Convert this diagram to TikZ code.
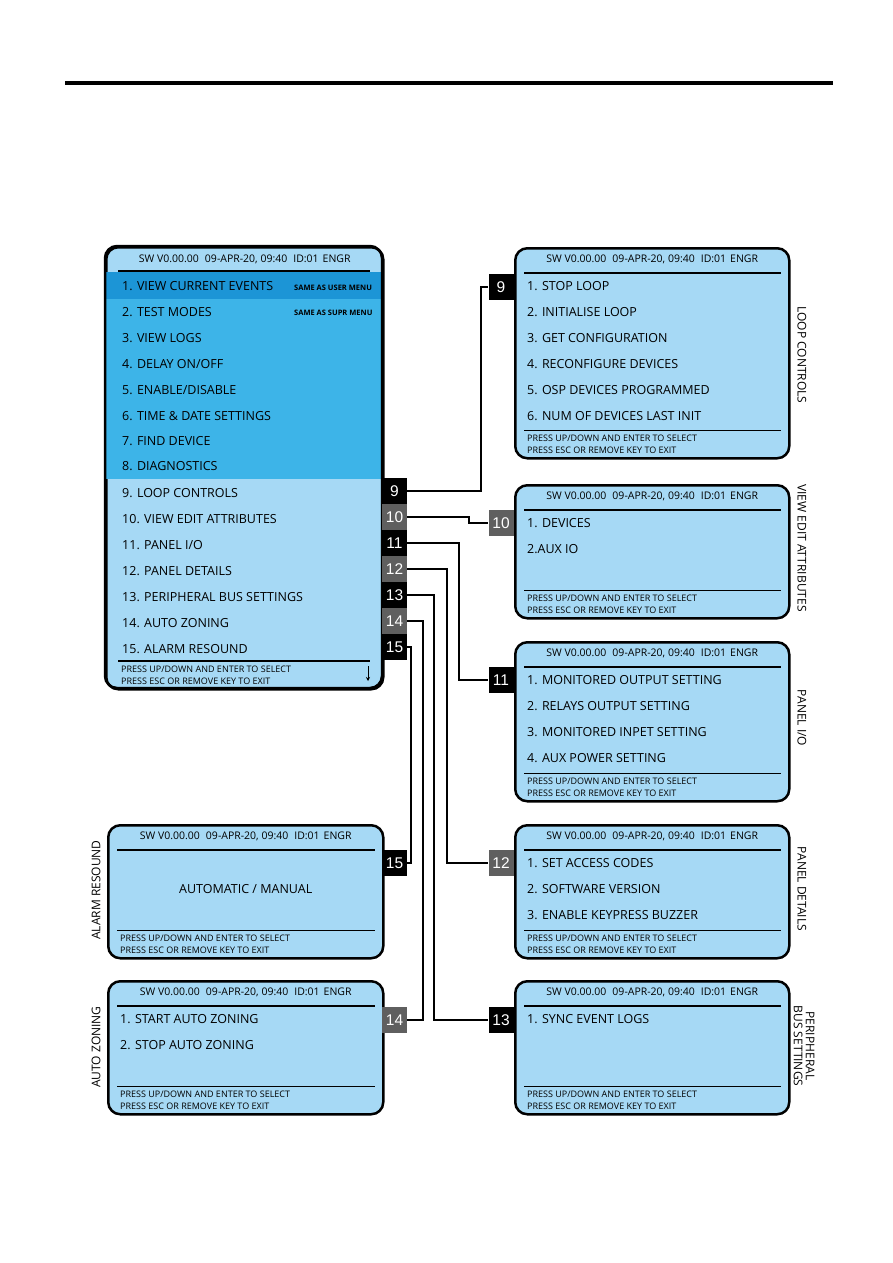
\documentclass[tikz,border=0pt]{standalone}
\usepackage{fontspec}
\setmainfont{Open Sans}
\newfontfamily\tabfont{Liberation Sans}
\usetikzlibrary{calc,arrows.meta}
\definecolor{lcdlight}{RGB}{166,217,245}
\definecolor{lcdmid}{RGB}{61,180,232}
\definecolor{lcddark}{RGB}{28,149,214}
\definecolor{tabgray}{RGB}{95,95,95}
\newcommand\hdrtext{SW V0.00.00\hspace{6pt}09-APR-20, 09:40\hspace{6pt}ID:01\hspace{4pt}ENGR}
\newcommand\lcd[5]{%
 \node[screen, anchor=north west, minimum width=#4pt, minimum height=#5pt] (#1) at (#2,#3) {};
 \node[hdr] at ($(#1.north)+(0,12)$) {\hdrtext};
 \draw[sep] ($(#1.north west)+(10,26)$) -- ($(#1.north east)+(-10,26)$);
 \draw[sep] ($(#1.south west)+(10,-29)$) -- ($(#1.south east)+(-10,-29)$);
 \node[foot] at ($(#1.south west)+(13,-21)$) {PRESS UP/DOWN AND ENTER TO SELECT};
 \node[foot] at ($(#1.south west)+(13,-9)$) {PRESS ESC OR REMOVE KEY TO EXIT};}
\newcommand\lcditem[3]{\node[item] at ($(#1.north west)+(13,{39+26*#2})$) {#3};}
\begin{document}
\begin{tikzpicture}[x=1pt,y=-1pt,
 screen/.style={draw, line width=2.5pt, rounded corners=12pt, fill=lcdlight, inner sep=0pt, rectangle},
 hdr/.style={font=\fontsize{10.5}{12}\selectfont, inner sep=0pt},
 item/.style={anchor=west, font=\fontsize{12.5}{14}\selectfont, inner sep=0pt},
 foot/.style={anchor=west, font=\fontsize{9}{10}\selectfont, inner sep=0pt},
 note/.style={anchor=west, font=\bfseries\fontsize{7.5}{8}\selectfont, inner sep=0pt},
 sep/.style={line width=1.5pt},
 tabk/.style={fill=black, text=white, font=\tabfont\fontsize{15.5}{16}\selectfont, minimum width=25pt, minimum height=26pt, inner sep=0pt},
 tabg/.style={tabk, fill=tabgray},
 wire/.style={line width=2.5pt},
 side/.style={font=\fontsize{12}{14}\selectfont, inner sep=0pt, align=center}]
\useasboundingbox (0,0) rectangle (893,1263);
\draw[line width=3.5pt] (65,83) -- (833,83);
% main menu
\node[screen, anchor=north west, minimum width=277pt, minimum height=442pt] (main) at (105,246) {};
\fill[lcddark] (106.25,272) rectangle (380.75,299);
\fill[lcdmid] (106.25,299) rectangle (380.75,479);
\draw[screen, fill=none] (105,246) rectangle (382,688);
\node[hdr] at ($(main.north)+(0,13)$) {\hdrtext};
\draw[sep] (118,271) -- (370,271);
\draw[sep] (118,661) -- (370,661);
\node[foot] at (121,669) {PRESS UP/DOWN AND ENTER TO SELECT};
\node[foot] at (121,681) {PRESS ESC OR REMOVE KEY TO EXIT};
\draw[-{Stealth[length=4pt,width=4pt]}, line width=1pt] (368,666) -- (368,681);
\node[item] at (122,286) {1. VIEW CURRENT EVENTS};
\node[item] at (122,312) {2. TEST MODES};
\node[item] at (122,338) {3. VIEW LOGS};
\node[item] at (122,364) {4. DELAY ON/OFF};
\node[item] at (122,390) {5. ENABLE/DISABLE};
\node[item] at (122,416) {6. TIME \& DATE SETTINGS};
\node[item] at (122,441) {7. FIND DEVICE};
\node[item] at (122,466) {8. DIAGNOSTICS};
\node[item] at (122,493) {9. LOOP CONTROLS};
\node[item] at (122,519) {10. VIEW EDIT ATTRIBUTES};
\node[item] at (122,545) {11. PANEL I/O};
\node[item] at (122,571) {12. PANEL DETAILS};
\node[item] at (122,597) {13. PERIPHERAL BUS SETTINGS};
\node[item] at (122,623) {14. AUTO ZONING};
\node[item] at (122,649) {15. ALARM RESOUND};
\node[note] at (294,288) {SAME AS USER MENU};
\node[note] at (294,313) {SAME AS SUPR MENU};
% sub screens
\lcd{loop}{514}{247}{274}{210}
\lcditem{loop}{0}{1. STOP LOOP}
\lcditem{loop}{1}{2. INITIALISE LOOP}
\lcditem{loop}{2}{3. GET CONFIGURATION}
\lcditem{loop}{3}{4. RECONFIGURE DEVICES}
\lcditem{loop}{4}{5. OSP DEVICES PROGRAMMED}
\lcditem{loop}{5}{6. NUM OF DEVICES LAST INIT}
\lcd{view}{514}{484}{274}{133}
\lcditem{view}{0}{1. DEVICES}
\lcditem{view}{1}{2.AUX IO}
\lcd{pio}{514}{641}{274}{159}
\lcditem{pio}{0}{1. MONITORED OUTPUT SETTING}
\lcditem{pio}{1}{2. RELAYS OUTPUT SETTING}
\lcditem{pio}{2}{3. MONITORED INPET SETTING}
\lcditem{pio}{3}{4. AUX POWER SETTING}
\lcd{pdet}{514}{824}{274}{133}
\lcditem{pdet}{0}{1. SET ACCESS CODES}
\lcditem{pdet}{1}{2. SOFTWARE VERSION}
\lcditem{pdet}{2}{3. ENABLE KEYPRESS BUZZER}
\lcd{pbus}{514}{980}{274}{133}
\lcditem{pbus}{0}{1. SYNC EVENT LOGS}
\lcd{alarm}{107}{824}{275}{133}
\node[font=\fontsize{12.5}{14}\selectfont, inner sep=0pt] at ($(alarm.north)+(0,65)$) {AUTOMATIC / MANUAL};
\lcd{auto}{107}{980}{275}{133}
\lcditem{auto}{0}{1. START AUTO ZONING}
\lcditem{auto}{1}{2. STOP AUTO ZONING}
% side labels
\node[side, rotate=-90] (sl1) at (802,355) {LOOP CONTROLS};
\node[side, rotate=-90] (sl2) at (802,548) {VIEW EDIT ATTRIBUTES};
\node[side, rotate=-90] (sl3) at (802,718) {PANEL I/O};
\node[side, rotate=-90] (sl4) at (802,889) {PANEL DETAILS};
\node[side, rotate=-90, font=\fontsize{12}{12}\selectfont] (sl5) at (804,1046) {PERIPHERAL\\BUS SETTINGS};
\node[side, rotate=90] (sl6) at (96,890) {ALARM RESOUND};
\node[side, rotate=90] (sl7) at (96,1047) {AUTO ZONING};
% tabs
\node[tabk] (m9) at (394.5,491) {9};
\node[tabg] (m10) at (394.5,517) {10};
\node[tabk] (m11) at (394.5,543) {11};
\node[tabg] (m12) at (394.5,569) {12};
\node[tabk] (m13) at (394.5,595) {13};
\node[tabg] (m14) at (394.5,621) {14};
\node[tabk] (m15) at (394.5,647) {15};
\node[tabk] (l9) at (501,287) {9};
\node[tabg] (l10) at (501,523) {10};
\node[tabk] (l11) at (501,680) {11};
\node[tabg] (l12) at (501,863) {12};
\node[tabk] (l13) at (501,1020) {13};
\node[tabk] (a15) at (394.5,863) {15};
\node[tabg] (a14) at (394.5,1020) {14};
% wires
\draw[wire] (m9.east) -- ++(74,0) |- (l9.west);
\draw[wire] (m10.east) -- ++(62,0) |- (l10.west);
\draw[wire] (m11.east) -- ++(52,0) |- (l11.west);
\draw[wire] (m12.east) -- ++(40,0) |- (l12.west);
\draw[wire] (m13.east) -- ++(27,0) |- (l13.west);
\draw[wire] (m14.east) -- ++(16,0) |- (a14.east);
\draw[wire] (m15.east) -- ++(4,0) |- (a15.east);
\end{tikzpicture}
\end{document}
